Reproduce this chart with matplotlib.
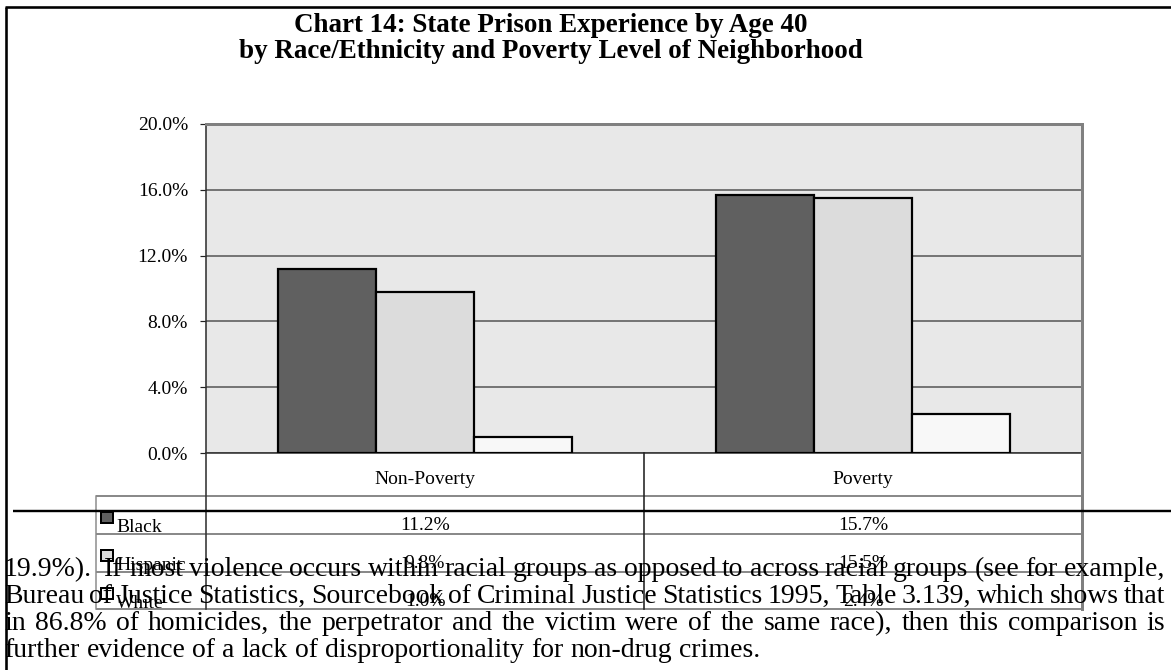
import matplotlib
matplotlib.use("Agg")
import matplotlib.pyplot as plt
from matplotlib.patches import Rectangle

# ---- data -------------------------------------------------------------
categories = ["Non-Poverty", "Poverty"]
series_names = ["Black", "Hispanic", "White"]
black_vals = [11.2, 15.7]
hispanic_vals = [9.8, 15.5]
white_vals = [1.0, 2.4]
y_ticks = [0.0, 4.0, 8.0, 12.0, 16.0, 20.0]

title_lines = ["Chart 14: State Prison Experience by Age 40",
               "by Race/Ethnicity and Poverty Level of Neighborhood"]

body_lines = [
    "19.9%).  If most violence occurs within racial groups as opposed to across racial groups (see for example,",
    "Bureau of Justice Statistics, Sourcebook of Criminal Justice Statistics 1995, Table 3.139, which shows that",
    "in 86.8% of homicides, the perpetrator and the victim were of the same race), then this comparison is",
    "further evidence of a lack of disproportionality for non-drug crimes.",
]

series_vals = [black_vals, hispanic_vals, white_vals]
series_colors = ["#606060", "#dcdcdc", "#f8f8f8"]

# ---- figure -----------------------------------------------------------
W, H = 1171, 670
DPI = 100
fig = plt.figure(figsize=(W / DPI, H / DPI), dpi=DPI)
fig.patch.set_facecolor("white")
serif = ["Liberation Serif", "DejaVu Serif"]
px = 72.0 / DPI  # one pixel in points
small_fs = 19.5 * px

# plot area in pixel coordinates (y measured from the top)
PL, PR, PT, PB = 206, 1082, 124, 453
ax = fig.add_axes([PL / W, (H - PB) / H, (PR - PL) / W, (PB - PT) / H])
ax.set_facecolor("#e8e8e8")
ax.set_xlim(-0.5, 1.5)
ax.set_ylim(0, 20)

bar_w = 0.2233
offsets = [-bar_w, 0.0, bar_w]
xs = list(range(len(categories)))
for vals, off, col in zip(series_vals, offsets, series_colors):
    ax.bar([x + off for x in xs], vals, width=bar_w, color=col,
           edgecolor="black", linewidth=2.2 * px, zorder=3)

ax.set_yticks(y_ticks)
ax.set_yticklabels([f"{v:.1f}%" for v in y_ticks], family=serif, fontsize=small_fs)
ax.tick_params(axis="y", length=6 * px, width=1.2 * px, color="#222222", pad=12 * px)
ax.set_xticks([])
ax.yaxis.grid(True, color="#5a5a5a", linewidth=1.6 * px, zorder=1)
ax.set_axisbelow(True)
for side in ("top", "right"):
    ax.spines[side].set_color("#808080")
    ax.spines[side].set_linewidth(3 * px)
ax.spines["left"].set_color("#333333")
ax.spines["left"].set_linewidth(1.6 * px)
ax.spines["bottom"].set_color("#333333")
ax.spines["bottom"].set_linewidth(1.6 * px)

# ---- overlay in pixel coordinates for table, text and frame ------------
ov = fig.add_axes([0, 0, 1, 1], zorder=5)
ov.set_xlim(0, W)
ov.set_ylim(H, 0)
ov.axis("off")
ov.patch.set_alpha(0)

# chart frame
ov.plot([6, 6], [6.5, H], color="black", linewidth=2.6 * px, solid_capstyle="butt")
ov.plot([5, W], [6.5, 6.5], color="black", linewidth=2.6 * px, solid_capstyle="butt")

# title
for i, line in enumerate(title_lines):
    ov.text(551, 25 + 27 * i, line, ha="center", va="center", family=serif,
            fontweight="bold", fontsize=27 * px, color="black")

# data table
TL = 96
col_edges = [PL, 644, PR]
row_edges = [496, 534, 571.5, 609]
grey = "#8a8a8a"
for y in row_edges:
    ov.plot([TL, PR], [y, y], color=grey, linewidth=2 * px, solid_capstyle="butt")
ov.plot([TL, TL], [row_edges[0], row_edges[-1]], color=grey, linewidth=1.5 * px)
ov.plot([PL, PL], [PB, row_edges[-1]], color="#333333", linewidth=1.6 * px)
ov.plot([644, 644], [PB, row_edges[-1]], color="#222222", linewidth=1.6 * px)
ov.plot([PR, PR], [PB, row_edges[-1]], color="#808080", linewidth=3 * px)

col_centers = [(col_edges[i] + col_edges[i + 1]) / 2 for i in range(len(categories))]
for cx, cat in zip(col_centers, categories):
    ov.text(cx, 479, cat, ha="center", va="center", family=serif,
            fontsize=small_fs, color="black")

for r, (name, vals, col) in enumerate(zip(series_names, series_vals, series_colors)):
    top = row_edges[r]
    ov.add_patch(Rectangle((101, top + 16), 12, 11, facecolor=col,
                           edgecolor="black", linewidth=2 * px))
    base = top + 36
    ov.text(116, base, name, ha="left", va="baseline", family=serif,
            fontsize=small_fs, color="black")
    for cx, v in zip(col_centers, vals):
        ov.text(cx, base - 2, f"{v:.1f}%", ha="center", va="baseline", family=serif,
                fontsize=small_fs, color="black")

# document rule
ov.plot([13, W], [511, 511], color="black", linewidth=2.4 * px, solid_capstyle="butt")

# body paragraph, justified between the margins
fig.canvas.draw()
renderer = fig.canvas.get_renderer()
LEFT, RIGHT = 4, 1165
baselines = [576, 603, 630, 657]
body_fs = 27.8 * px


def word_width(w):
    t = ov.text(0, 0, w, family=serif, fontsize=body_fs)
    bb = t.get_window_extent(renderer=renderer)
    t.remove()
    return bb.width


natural_space = word_width("a b") - word_width("ab")
for i, (line, yb) in enumerate(zip(body_lines, baselines)):
    words = line.split(" ")
    # empty strings mark doubled spaces: they add an extra gap
    tokens = [w for w in words if w]
    gaps = []
    g = 0
    for w in words[1:]:
        g += 1
        if w:
            gaps.append(g)
            g = 0
    widths = [word_width(w) for w in tokens]
    justify = i < len(body_lines) - 1
    if justify:
        space = (RIGHT - LEFT - sum(widths)) / sum(gaps)
    else:
        space = natural_space
    x = LEFT
    for j, (w, wd) in enumerate(zip(tokens, widths)):
        ov.text(x, yb, w, ha="left", va="baseline", family=serif,
                fontsize=body_fs, color="black", zorder=10)
        if j < len(gaps):
            x += wd + space * gaps[j]

fig.savefig("out.png", dpi=DPI)
